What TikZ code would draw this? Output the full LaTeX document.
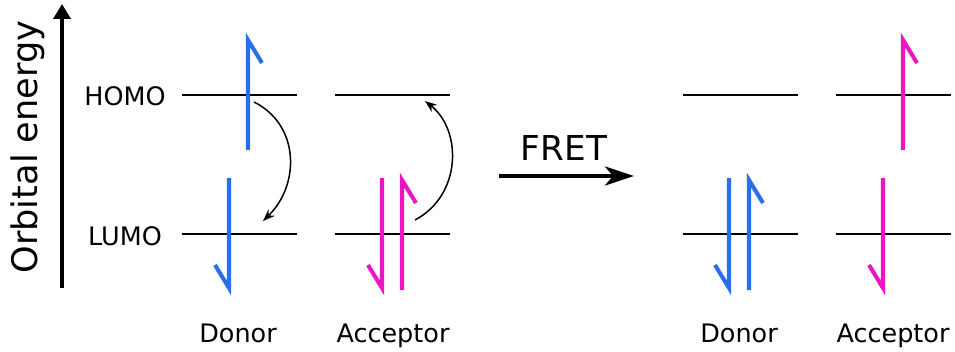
\documentclass[tikz,border=0pt]{standalone}
\usepackage{fontspec}
\setmainfont{DejaVu Sans}
\usetikzlibrary{arrows.meta}
\definecolor{elecblue}{RGB}{42,110,240}
\definecolor{elecpink}{RGB}{236,20,196}

\begin{document}
\begin{tikzpicture}[
  x=0.02cm, y=-0.02cm,
  level/.style={line width=1pt, draw=black},
  spin/.style={line width=2.3pt, line join=miter},
  axis/.style={line width=2.1pt, -{Triangle[length=0.3cm, width=0.34cm]}},
  hop/.style={line width=0.85pt, -{Stealth[length=0.24cm, width=0.18cm]}},
  fret/.style={line width=2.1pt, -{Stealth[length=0.58cm, width=0.38cm, inset=0.16cm]}},
  lbl/.style={font=\fontsize{14.5}{17}\selectfont, anchor=base},
  spinup/.pic={\draw[spin] (0,55) -- (0,-55) -- (14,-32);},
  spindown/.pic={\draw[spin] (0,-55) -- (0,55) -- (-14,32);},
]
\useasboundingbox (0,0) rectangle (955,351);

% energy axis
\coordinate (axbot) at (62,288);
\coordinate (axtop) at (62,4);
\draw[axis] (axbot) -- (axtop);
\node[rotate=90, font=\fontsize{20}{24}\selectfont] (energy) at (28,147) {Orbital energy};
\node[lbl] (homo) at (125,106) {HOMO};
\node[lbl] (lumo) at (125,245) {LUMO};

% levels
\foreach \x/\nm in {182/dl,335/al,683/dr,836/ar}{
  \draw[level] (\x,95) -- ++(115,0);
  \draw[level] (\x,234) -- ++(115,0);
}

% before transfer
\pic[elecblue] at (248,95)  {spinup};
\pic[elecblue] at (229,233) {spindown};
\pic[elecpink] at (382,233) {spindown};
\pic[elecpink] at (402,235) {spinup};

\coordinate (dstart) at (254,102);
\coordinate (dend)   at (263,221);
\coordinate (astart) at (415,220);
\coordinate (aend)   at (425,101);
\draw[hop] (dstart) .. controls (300,125) and (300,185) .. (dend);
\draw[hop] (astart) .. controls (462,195) and (462,130) .. (aend);

% transfer
\coordinate (fretA) at (499,176);
\coordinate (fretB) at (634,176);
\draw[fret] (fretA) -- (fretB);
\node[font=\fontsize{19.5}{23}\selectfont, anchor=base] (fretlbl) at (564,160) {FRET};

% after transfer
\pic[elecblue] at (729,233) {spindown};
\pic[elecblue] at (749,235) {spinup};
\pic[elecpink] at (903,95)  {spinup};
\pic[elecpink] at (883,233) {spindown};

% names
\node[lbl] (don1) at (238,342) {Donor};
\node[lbl] (acc1) at (393,342) {Acceptor};
\node[lbl] (don2) at (739,342) {Donor};
\node[lbl] (acc2) at (893,342) {Acceptor};

\end{tikzpicture}
\end{document}
